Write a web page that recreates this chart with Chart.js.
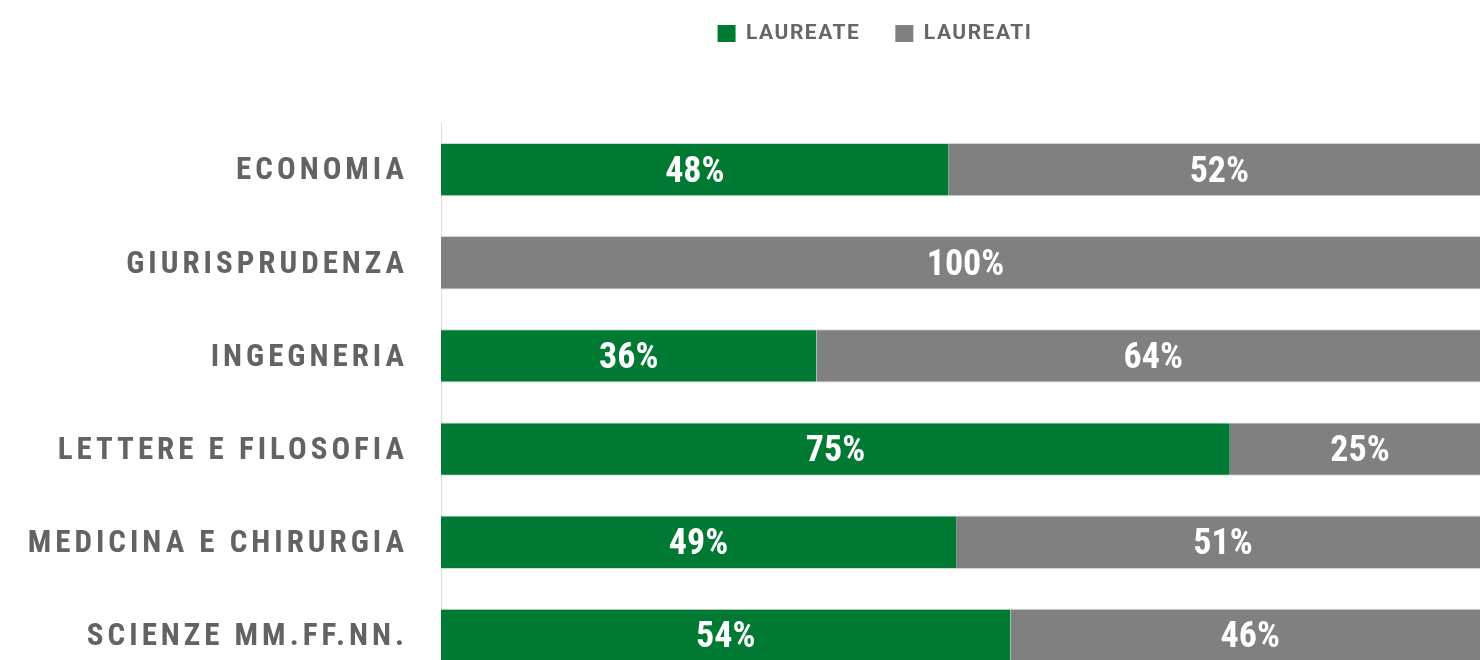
<!DOCTYPE html>
<html>
<head>
<meta charset="utf-8">
<script src="https://cdn.jsdelivr.net/npm/chart.js@4/dist/chart.umd.min.js"></script>
<style>
  html, body { margin: 0; padding: 0; background: #fff; overflow: hidden; }
  #wrap { position: absolute; left: 0; top: 0; width: 1490px; height: 682px; }
</style>
</head>
<body>
<div id="wrap"><canvas id="c" width="1490" height="682"></canvas></div>
<script>
const categories = ['ECONOMIA', 'GIURISPRUDENZA', 'INGEGNERIA', 'LETTERE E FILOSOFIA', 'MEDICINA E CHIRURGIA', 'SCIENZE MM.FF.NN.'];
const laureate = [48.4, 0, 35.8, 75.2, 49.1, 54.3];
const laureati = [51.6, 100, 64.2, 24.8, 50.9, 45.7];
const seriesNames = ['LAUREATE', 'LAUREATI'];

const FONT = '"Roboto Condensed", "DejaVu Sans Condensed", sans-serif';
const LEGEND_FONT = 'Roboto, "DejaVu Sans", sans-serif';

function withSpacing(obj, name, spacing) {
  const orig = obj[name];
  obj[name] = function (...args) {
    const ctx = this.ctx;
    ctx.save();
    ctx.letterSpacing = spacing;
    const r = orig.apply(this, args);
    ctx.restore();
    return r;
  };
}

const layoutTweaks = {
  id: 'layoutTweaks',
  beforeLayout(chart) {
    const lg = chart.legend;
    if (lg && !lg._wrapped) {
      const f = lg.fit;
      lg.fit = function () {
        const ctx = this.ctx;
        ctx.save();
        ctx.letterSpacing = '1.5px';
        f.call(this);
        ctx.restore();
        this.height = 123;
      };
      withSpacing(lg, 'draw', '1.5px');
      lg._wrapped = true;
    }
  },
  afterLayout(chart) {
    const lg = chart.legend;
    if (lg) {
      lg.left += 130; lg.right += 130;
      lg.top -= 12; lg.bottom -= 12;
    }
    const s = chart.scales.y;
    if (s && !s._lsWrapped) {
      withSpacing(s, 'drawLabels', '4px');
      s._lsWrapped = true;
    }
  }
};

const valueLabels = {
  id: 'valueLabels',
  afterDatasetsDraw(chart) {
    const ctx = chart.ctx;
    ctx.save();
    ctx.fillStyle = '#ffffff';
    ctx.font = 'bold 36px ' + FONT;
    ctx.textAlign = 'center';
    ctx.textBaseline = 'middle';
    chart.data.datasets.forEach((ds, di) => {
      const meta = chart.getDatasetMeta(di);
      meta.data.forEach((el, i) => {
        const v = ds.data[i];
        if (!v) return;
        const x = (el.x + el.base) / 2;
        ctx.fillText(Math.round(v) + '%', x, el.y + 3);
      });
    });
    ctx.restore();
  }
};

new Chart(document.getElementById('c'), {
  type: 'bar',
  data: {
    labels: categories,
    datasets: [
      { label: seriesNames[0], data: laureate, backgroundColor: '#007a33',
        borderColor: '#d4d4d4', borderWidth: { top: 1, bottom: 1, left: 0, right: 0 }, borderSkipped: false },
      { label: seriesNames[1], data: laureati, backgroundColor: '#808080',
        borderColor: '#d4d4d4', borderWidth: { top: 1, bottom: 1, left: 0, right: 0 }, borderSkipped: false }
    ]
  },
  options: {
    indexAxis: 'y',
    responsive: false,
    animation: false,
    layout: { padding: 0 },
    datasets: { bar: { barPercentage: 0.573, categoryPercentage: 1 } },
    scales: {
      x: { stacked: true, min: 0, max: 100, display: false },
      y: {
        stacked: true,
        afterFit(s) { s.width = 441; s.paddingTop = 0; s.paddingBottom = 0; },
        grid: { display: false, drawTicks: false },
        border: { display: true, color: '#dcdcdc', width: 1 },
        ticks: { color: '#636363', padding: 33, labelOffset: 2, font: { family: FONT, size: 31, weight: 'bold' } }
      }
    },
    plugins: {
      legend: {
        position: 'top',
        align: 'center',
        labels: {
          boxWidth: 18, boxHeight: 17, padding: 35, color: '#666666',
          font: { family: LEGEND_FONT, size: 21, weight: 'bold' },
          generateLabels(chart) {
            return chart.data.datasets.map((ds, i) => ({
              text: ds.label, fillStyle: ds.backgroundColor, strokeStyle: ds.backgroundColor,
              lineWidth: 0, hidden: false, datasetIndex: i, fontColor: '#666666'
            }));
          }
        }
      },
      tooltip: { enabled: false }
    }
  },
  plugins: [layoutTweaks, valueLabels]
});
</script>
</body>
</html>
